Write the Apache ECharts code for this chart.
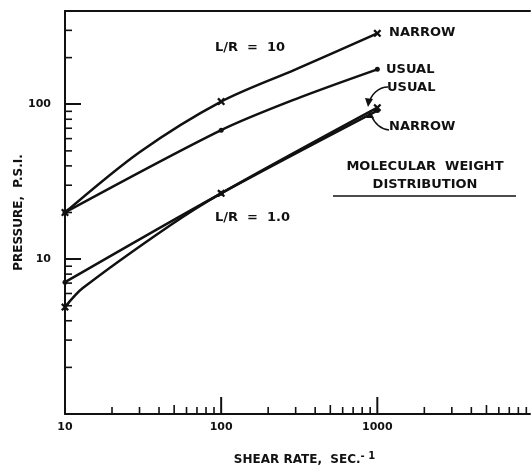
<!DOCTYPE html>
<html>
<head>
<meta charset="utf-8">
<script src="https://cdn.jsdelivr.net/npm/echarts@6/dist/echarts.min.js"></script>
<style>
  html, body { margin: 0; padding: 0; background: #fff; }
  #chart { width: 531px; height: 467px; }
</style>
</head>
<body>
<div id="chart"></div>
<script>
// values (log-log)
const narrow10X = [10, 30, 100, 300, 1000];
const narrow10Y = [20, 49, 104, 168, 287];
const usual10X = [10, 100, 300, 1000];
const usual10Y = [20, 68, 108, 168];
const usual1X = [10, 100, 1000];
const usual1Y = [7.1, 26.6, 91];
const narrow1X = [10, 13, 47, 100, 1000];
const narrow1Y = [4.9, 6.5, 16.5, 26.6, 95];
const markedX = [10, 100, 1000];

const xTickLabels = ['10', '100', '1000'];
const yTickLabels = ['10', '100'];
const xMajorTicks = [100, 1000];
const xMinorTicks = [20, 30, 40, 50, 60, 70, 80, 90, 200, 300, 400, 500, 600, 700, 800, 900,
  2000, 3000, 4000, 5000, 6000, 7000, 8000, 9000];
const yMinorTicks = [2, 3, 4, 5, 6, 7, 8, 9, 20, 30, 40, 50, 60, 70, 80, 90, 200, 300];

const FONT = 'DejaVu Sans';
const LABEL_FONT = 'bold 13px "DejaVu Sans"';
const crossPath = 'path://M2,0L5,3L8,0L10,2L7,5L10,8L8,10L5,7L2,10L0,8L3,5L0,2Z';

function makeData(xs, ys, symbol, size) {
  return xs.map((x, i) => ({
    value: [x, ys[i]],
    symbol: markedX.includes(x) ? symbol : 'none',
    symbolSize: size
  }));
}

function curve(name, xs, ys, symbol, size) {
  return {
    name: name,
    type: 'line',
    smooth: 0.3,
    data: makeData(xs, ys, symbol, size),
    lineStyle: { color: '#111', width: 2.5 },
    itemStyle: { color: '#111' },
    showAllSymbol: true,
    z: 3
  };
}

function label(text, x, y, align) {
  return {
    type: 'text',
    x: x,
    y: y,
    style: { text: text, font: LABEL_FONT, fill: '#111', textAlign: align || 'left', textVerticalAlign: 'middle' }
  };
}

// vertical ticks standing on the bottom axis
function xTicks(values, lenFn) {
  return {
    type: 'custom',
    silent: true,
    data: values.map(v => [v, 1]),
    renderItem: (params, api) => {
      const p = api.coord([api.value(0), api.value(1)]);
      const len = lenFn(api.value(0));
      return {
        type: 'line',
        shape: { x1: p[0], y1: p[1], x2: p[0], y2: p[1] - len },
        style: { stroke: '#111', lineWidth: len > 10 ? 2 : 1.6 }
      };
    }
  };
}

let chart = echarts.init(document.getElementById('chart'));
chart.setOption({
  animation: false,
  textStyle: { fontFamily: FONT },
  grid: { left: 65, right: 1, top: 11, bottom: 53, outerBoundsMode: 'none' },
  xAxis: [
    {
      type: 'log',
      min: 10,
      max: 9500,
      name: 'SHEAR RATE,  SEC.{sup|- 1}',
      nameLocation: 'middle',
      nameGap: 37,
      nameMoveOverlap: false,
      nameTextStyle: {
        fontFamily: FONT, fontWeight: 'bold', fontSize: 12, color: '#111',
        padding: [0, 0, 0, 14],
        rich: { sup: { fontFamily: FONT, fontWeight: 'bold', fontSize: 10, color: '#111', verticalAlign: 'top', padding: [0, 0, 8, 0] } }
      },
      axisLine: { lineStyle: { color: '#111', width: 2 } },
      axisTick: { show: false },
      axisLabel: {
        margin: 8,
        color: '#111',
        fontFamily: FONT,
        fontWeight: 'bold',
        fontSize: 11,
        formatter: v => (xTickLabels.includes(String(v)) ? String(v) : '')
      },
      splitLine: { show: false }
    },
    {
      type: 'log',
      position: 'top',
      min: 10,
      max: 9500,
      axisLine: { show: true, lineStyle: { color: '#111', width: 2 } },
      axisTick: { show: false },
      axisLabel: { show: false },
      splitLine: { show: false }
    }
  ],
  yAxis: {
    type: 'log',
    min: 1,
    max: 400,
    name: 'PRESSURE,  P.S.I.',
    nameLocation: 'middle',
    nameGap: 40,
    nameMoveOverlap: false,
    nameTextStyle: { fontFamily: FONT, fontWeight: 'bold', fontSize: 12, color: '#111' },
    axisLine: { lineStyle: { color: '#111', width: 2 } },
    axisTick: { inside: true, length: 16, lineStyle: { color: '#111', width: 2 } },
    axisLabel: {
      margin: 14,
      color: '#111',
      fontFamily: FONT,
      fontWeight: 'bold',
      fontSize: 11,
      formatter: v => (yTickLabels.includes(String(v)) ? String(v) : '')
    },
    splitLine: { show: false }
  },
  series: [
    curve('L/R=10 narrow', narrow10X, narrow10Y, crossPath, 8),
    curve('L/R=10 usual', usual10X, usual10Y, 'circle', 5),
    curve('L/R=1 usual', usual1X, usual1Y, 'circle', 5),
    curve('L/R=1 narrow', narrow1X, narrow1Y, crossPath, 8),
    xTicks(xMajorTicks, () => 17),
    xTicks(xMinorTicks, v => (String(v)[0] === '5' ? 9 : 7)),
    {
      type: 'custom',
      silent: true,
      data: yMinorTicks.map(v => [10, v]),
      renderItem: (params, api) => {
        const p = api.coord([api.value(0), api.value(1)]);
        return {
          type: 'line',
          shape: { x1: p[0], y1: p[1], x2: p[0] + 7, y2: p[1] },
          style: { stroke: '#111', lineWidth: 1.6 }
        };
      }
    }
  ],
  graphic: [
    label('L/R  =  10', 215, 48),
    label('L/R  =  1.0', 215, 218),
    label('NARROW', 389, 33),
    label('USUAL', 386, 70),
    label('USUAL', 387, 88),
    label('NARROW', 389, 127),
    label('MOLECULAR  WEIGHT', 425, 167, 'center'),
    label('DISTRIBUTION', 425, 185, 'center'),
    { type: 'line', shape: { x1: 333, y1: 196, x2: 516, y2: 196 }, style: { stroke: '#111', lineWidth: 1.5 } },
    // arrows pointing at the L/R = 1.0 line ends
    { type: 'bezierCurve', shape: { x1: 388, y1: 87, cpx1: 378, cpy1: 87, cpx2: 371, cpy2: 95, x2: 369, y2: 103 }, style: { stroke: '#111', lineWidth: 1.6, fill: null } },
    { type: 'polygon', shape: { points: [[365, 98], [373, 99], [368, 107]] }, style: { fill: '#111' } },
    { type: 'bezierCurve', shape: { x1: 389, y1: 130, cpx1: 380, cpy1: 129, cpx2: 374, cpy2: 122, x2: 371, y2: 115 }, style: { stroke: '#111', lineWidth: 1.6, fill: null } },
    { type: 'polygon', shape: { points: [[366, 118], [374, 118], [370, 111]] }, style: { fill: '#111' } }
  ]
});
</script>
</body>
</html>
